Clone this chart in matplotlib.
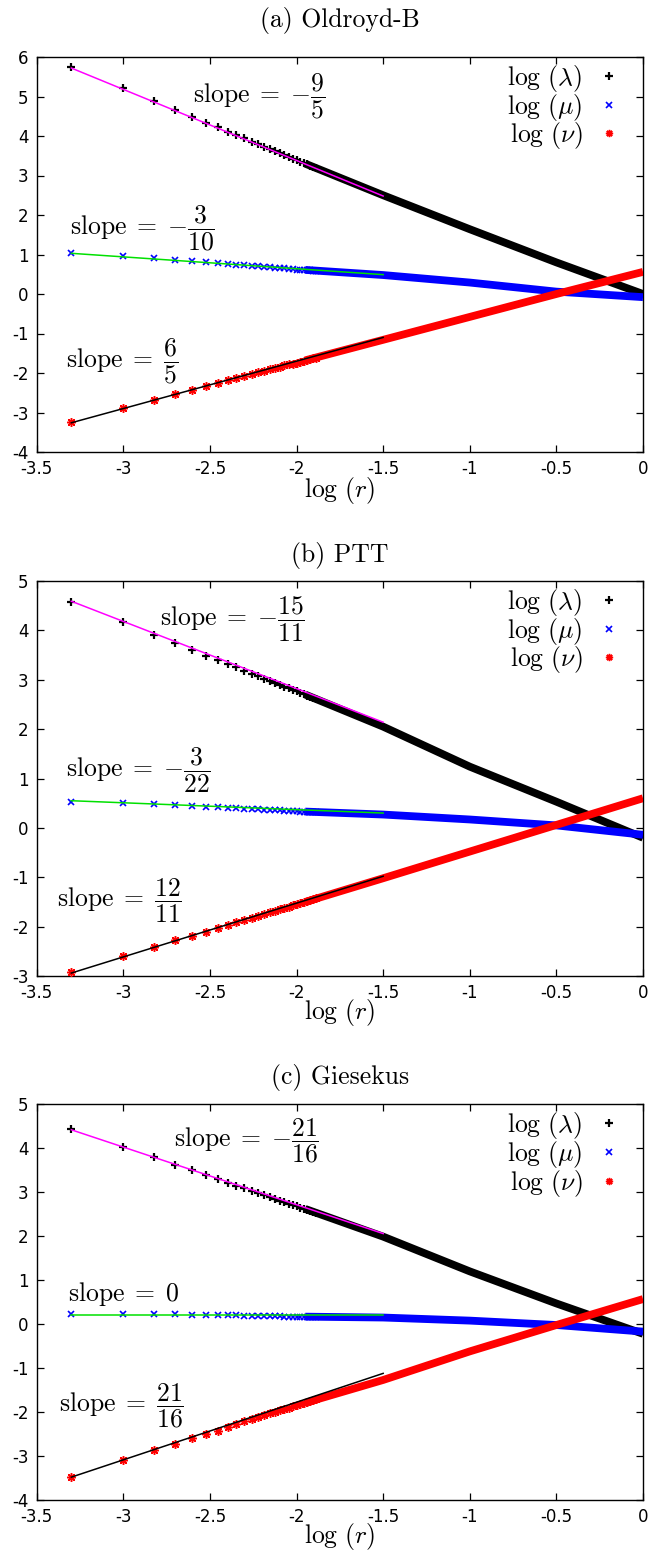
import matplotlib
matplotlib.use('Agg')
import matplotlib.pyplot as plt
from matplotlib.lines import Line2D

plt.rcParams['mathtext.fontset'] = 'cm'
plt.rcParams['axes.unicode_minus'] = False
plt.rcParams['font.family'] = ['DejaVu Sans']

# ---------------- data ----------------
# log(r) positions of the individually visible samples
x_sparse = [-3.301, -3.000, -2.824, -2.699, -2.602, -2.523, -2.456, -2.398, -2.347,
            -2.301, -2.260, -2.222, -2.187, -2.155, -2.125, -2.097, -2.071, -2.046, -2.022,
            -2.000, -1.979, -1.959, -1.939, -1.921, -1.903, -1.886]
# log(r) positions where the dense samples merge into a band
x_dense = [-1.95, -1.5, -1.0, -0.5, 0.0]
# fitted power-law lines
x_fit = [-3.3, -1.5]

titles = ['(a) Oldroyd-B', '(b) PTT', '(c) Giesekus']
ylims = [(-4, 6), (-3, 5), (-4, 5)]

# (a) Oldroyd-B
a_lam_sparse = [5.75, 5.21, 4.89, 4.66, 4.48, 4.33, 4.22, 4.11, 4.02, 3.94, 3.86, 3.79,
                3.73, 3.67, 3.62, 3.57, 3.52, 3.48, 3.43, 3.39, 3.35, 3.32, 3.28, 3.25, 3.22, 3.19]
a_lam_dense = [3.30, 2.50, 1.64, 0.80, 0.00]
a_mu_sparse = [1.04, 0.95, 0.90, 0.86, 0.83, 0.80, 0.78, 0.76, 0.74, 0.73, 0.71, 0.70,
               0.69, 0.68, 0.67, 0.66, 0.65, 0.64, 0.63, 0.62, 0.62, 0.61, 0.60, 0.60, 0.59, 0.59]
a_mu_dense = [0.61, 0.48, 0.29, 0.06, -0.08]
a_nu_sparse = [-3.24, -2.88, -2.68, -2.53, -2.42, -2.33, -2.25, -2.18, -2.12, -2.07, -2.02,
               -1.98, -1.94, -1.90, -1.87, -1.84, -1.81, -1.78, -1.76, -1.74, -1.71, -1.69,
               -1.67, -1.65, -1.63, -1.61]
a_nu_dense = [-1.68, -1.16, -0.58, 0.00, 0.56]
a_fit_lam = [5.72, 2.48]
a_fit_mu = [1.03, 0.49]
a_fit_nu = [-3.26, -1.10]

# (b) PTT
b_lam_sparse = [4.58, 4.16, 3.91, 3.75, 3.60, 3.48, 3.40, 3.32, 3.25, 3.18, 3.12, 3.07,
                3.02, 2.98, 2.94, 2.90, 2.86, 2.83, 2.80, 2.77, 2.74, 2.71, 2.68, 2.66, 2.63, 2.61]
b_lam_dense = [2.70, 2.05, 1.24, 0.53, -0.20]
b_mu_sparse = [0.53, 0.50, 0.48, 0.46, 0.45, 0.43, 0.42, 0.41, 0.40, 0.39, 0.385, 0.38,
               0.37, 0.365, 0.36, 0.355, 0.35, 0.345, 0.34, 0.335, 0.33, 0.33, 0.325, 0.32,
               0.32, 0.315]
b_mu_dense = [0.33, 0.27, 0.17, 0.05, -0.14]
b_nu_sparse = [-2.92, -2.60, -2.42, -2.28, -2.18, -2.10, -2.03, -1.96, -1.91, -1.86, -1.82,
               -1.78, -1.74, -1.71, -1.68, -1.65, -1.62, -1.60, -1.57, -1.55, -1.53, -1.50,
               -1.48, -1.46, -1.44, -1.42]
b_nu_dense = [-1.50, -1.02, -0.48, 0.06, 0.60]
b_fit_lam = [4.59, 2.14]
b_fit_mu = [0.55, 0.30]
b_fit_nu = [-2.94, -0.98]

# (c) Giesekus
c_lam_sparse = [4.43, 4.04, 3.81, 3.63, 3.51, 3.40, 3.31, 3.22, 3.15, 3.09, 3.03, 2.98,
                2.93, 2.89, 2.85, 2.81, 2.77, 2.74, 2.71, 2.68, 2.65, 2.63, 2.60, 2.58, 2.55, 2.53]
c_lam_dense = [2.62, 1.99, 1.20, 0.47, -0.22]
c_mu_sparse = [0.23, 0.23, 0.22, 0.22, 0.21, 0.21, 0.20, 0.20, 0.20, 0.19, 0.19, 0.19,
               0.18, 0.18, 0.18, 0.18, 0.17, 0.17, 0.17, 0.17, 0.17, 0.17, 0.165, 0.165,
               0.165, 0.16]
c_mu_dense = [0.17, 0.15, 0.08, -0.02, -0.17]
c_nu_sparse = [-3.48, -3.10, -2.87, -2.72, -2.60, -2.50, -2.42, -2.34, -2.27, -2.21, -2.16,
               -2.11, -2.07, -2.03, -1.99, -1.96, -1.93, -1.90, -1.87, -1.85, -1.82, -1.80,
               -1.77, -1.75, -1.73, -1.71]
c_nu_dense = [-1.79, -1.27, -0.62, -0.02, 0.57]
c_fit_lam = [4.42, 2.06]
c_fit_mu = [0.20, 0.20]
c_fit_nu = [-3.48, -1.12]

slope_texts = [
    [r'$\mathrm{slope}\;=\;{-}\dfrac{9}{5}$', r'$\mathrm{slope}\;=\;{-}\dfrac{3}{10}$',
     r'$\mathrm{slope}\;=\;\dfrac{6}{5}$'],
    [r'$\mathrm{slope}\;=\;{-}\dfrac{15}{11}$', r'$\mathrm{slope}\;=\;{-}\dfrac{3}{22}$',
     r'$\mathrm{slope}\;=\;\dfrac{12}{11}$'],
    [r'$\mathrm{slope}\;=\;{-}\dfrac{21}{16}$', r'$\mathrm{slope}\;=\;0$',
     r'$\mathrm{slope}\;=\;\dfrac{21}{16}$'],
]
slope_pos = [
    [(-2.60, 5.00, 'center'), (-3.31, 1.67, 'center'), (-3.33, -1.71, 'center')],
    [(-2.79, 4.23, 'center'), (-3.33, 1.16, 'center'), (-3.38, -1.49, 'center')],
    [(-2.71, 4.17, 'center'), (-3.32, 0.53, 'baseline'), (-3.37, -1.87, 'center')],
]
legend_labels = [r'$\log\,(\lambda)$', r'$\log\,(\mu)$', r'$\log\,(\nu)$']

panels = [
    (a_lam_sparse, a_lam_dense, a_mu_sparse, a_mu_dense, a_nu_sparse, a_nu_dense, a_fit_lam, a_fit_mu, a_fit_nu),
    (b_lam_sparse, b_lam_dense, b_mu_sparse, b_mu_dense, b_nu_sparse, b_nu_dense, b_fit_lam, b_fit_mu, b_fit_nu),
    (c_lam_sparse, c_lam_dense, c_mu_sparse, c_mu_dense, c_nu_sparse, c_nu_dense, c_fit_lam, c_fit_mu, c_fit_nu),
]

# ---------------- layout ----------------
W, H = 652, 1551
fig = plt.figure(figsize=(W / 100, H / 100), dpi=100)
left_px, right_px = 36.7, 643.0
tops = [57.0, 581.0, 1104.3]
bottoms = [452.0, 976.0, 1500.0]
title_y = [21.0, 555.5, 1077.5]
xlabel_y = [490.0, 1013.0, 1537.0]
FS = 18.5
BAND_LW = 5.6
MS = 5.2

colors = {'lam': 'black', 'mu': '#0000ff', 'nu': '#ff0000'}
fitcolors = ['#ff00ff', '#00e000', 'black']

for i, p in enumerate(panels):
    lam_s, lam_d, mu_s, mu_d, nu_s, nu_d, f_lam, f_mu, f_nu = p
    ax = fig.add_axes([left_px / W, 1 - bottoms[i] / H,
                       (right_px - left_px) / W, (bottoms[i] - tops[i]) / H])
    # dense bands
    ax.plot(x_dense, lam_d, color=colors['lam'], lw=BAND_LW, solid_capstyle='butt', zorder=2)
    ax.plot(x_dense, mu_d, color=colors['mu'], lw=BAND_LW, solid_capstyle='butt', zorder=3)
    ax.plot(x_dense, nu_d, color=colors['nu'], lw=BAND_LW, solid_capstyle='butt', zorder=4)
    # sparse markers
    ax.plot(x_sparse, lam_s, ls='none', marker='+', ms=MS + 1, mew=1.6, color=colors['lam'], zorder=2)
    ax.plot(x_sparse, mu_s, ls='none', marker='x', ms=MS - 0.5, mew=1.2, color=colors['mu'], zorder=3)
    ax.plot(x_sparse, nu_s, ls='none', marker=(8, 2, 0), ms=MS + 1, mew=1.1, color=colors['nu'], zorder=4)
    # fitted slopes
    ax.plot(x_fit, f_lam, color=fitcolors[0], lw=1.1, zorder=5)
    ax.plot(x_fit, f_mu, color=fitcolors[1], lw=1.1, zorder=5)
    ax.plot(x_fit, f_nu, color=fitcolors[2], lw=1.1, zorder=5)

    for txt, (tx, ty, va) in zip(slope_texts[i], slope_pos[i]):
        ax.text(tx, ty, txt, fontsize=FS, ha='left', va=va, zorder=6)

    ax.set_xlim(-3.5, 0)
    ax.set_ylim(*ylims[i])
    ax.set_xticks([-3.5, -3, -2.5, -2, -1.5, -1, -0.5, 0])
    ax.set_xticklabels(['-3.5', '-3', '-2.5', '-2', '-1.5', '-1', '-0.5', '0'])
    yt = list(range(ylims[i][0], ylims[i][1] + 1))
    ax.set_yticks(yt)
    ax.set_yticklabels([str(v) for v in yt])
    ax.tick_params(direction='in', top=True, right=True, length=5, width=0.9,
                   labelsize=12)
    ax.tick_params(axis='x', pad=6.0)
    ax.tick_params(axis='y', pad=6)
    for s in ax.spines.values():
        s.set_linewidth(1.0)

    handles = [
        Line2D([], [], ls='none', marker='+', ms=MS, mew=1.6, color=colors['lam']),
        Line2D([], [], ls='none', marker='x', ms=MS - 1, mew=1.2, color=colors['mu']),
        Line2D([], [], ls='none', marker=(8, 2, 0), ms=MS, mew=1.1, color=colors['nu']),
    ]
    ax.legend(handles, legend_labels, loc='upper right', markerfirst=False, frameon=False,
              fontsize=FS, handlelength=1.0, handletextpad=0.55, labelspacing=-0.09,
              borderpad=0.0, borderaxespad=0.0,
              bbox_to_anchor=((622 - left_px) / (right_px - left_px), 1 - 6.0 / 395))

    fig.text((left_px + right_px) / 2 / W, 1 - title_y[i] / H, titles[i],
             ha='center', va='center', fontsize=FS, family='cmr10')
    fig.text((left_px + right_px) / 2 / W, 1 - xlabel_y[i] / H, r'$\log\,(r)$',
             ha='center', va='center', fontsize=FS)

fig.savefig('out.png', dpi=100)
